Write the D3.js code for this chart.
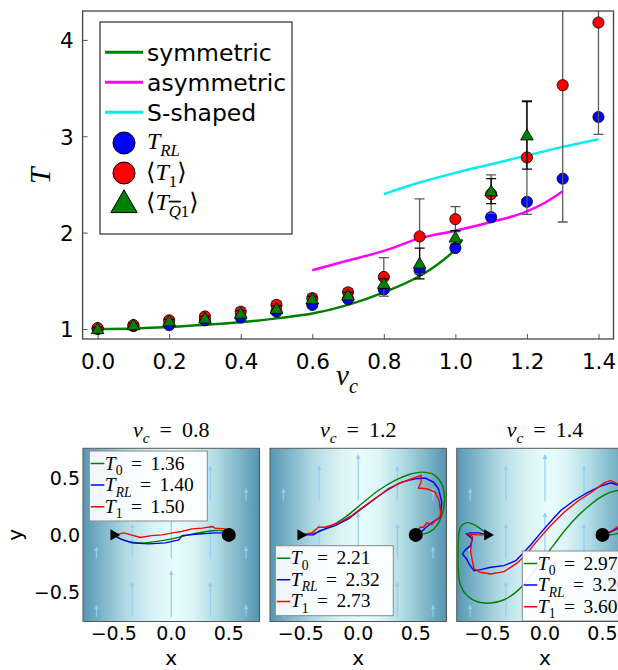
<!DOCTYPE html>
<html><head><meta charset="utf-8">
<script src="https://cdn.jsdelivr.net/npm/d3@7"></script>
<style>body{margin:0;background:#fff} svg{display:block}</style>
</head><body>
<svg id="c" width="618" height="670"></svg>
<script>
// ---------------- DATA ----------------
const vc      = [0.0,0.1,0.2,0.3,0.4,0.5,0.6,0.7,0.8,0.9,1.0,1.1,1.2,1.3,1.4];
const tRL     = [1.00,1.03,1.04,1.09,1.12,1.18,1.25,1.31,1.41,1.61,1.84,2.16,2.32,2.56,3.20];
const t1Mean  = [1.01,1.04,1.09,1.13,1.18,1.25,1.32,1.38,1.54,1.96,2.14,2.40,2.78,3.53,4.18];
const t1Err   = [0.02,0.02,0.03,0.03,0.04,0.04,0.04,0.04,0.20,0.39,0.13,0.20,0.59,1.42,1.16];
const tQ1Mean = [1.00,1.04,1.08,1.11,1.16,1.21,1.31,1.35,1.47,1.68,1.95,2.43,3.01,null,null];
const tQ1Err  = [0.02,0.02,0.02,0.02,0.03,0.03,0.03,0.03,0.05,0.16,0.07,0.13,0.35,null,null];

const symV  = [0.0,0.1,0.2,0.3,0.4,0.5,0.6,0.7,0.8,0.9,0.95,1.0,1.02];
const symT  = [1.00,1.005,1.02,1.045,1.07,1.11,1.16,1.25,1.38,1.55,1.67,1.83,1.93];
const asymV = [0.6,0.7,0.8,0.9,1.0,1.1,1.2,1.25,1.3];
const asymT = [1.61,1.71,1.81,1.94,2.02,2.11,2.22,2.31,2.43];
const sV    = [0.8,0.9,1.0,1.1,1.2,1.3,1.4];
const sT    = [2.40,2.52,2.62,2.71,2.80,2.89,2.97];

const xTicks = [0.0,0.2,0.4,0.6,0.8,1.0,1.2,1.4];
const yTicks = [1,2,3,4];

// bottom panels
const panelVc   = ["0.8","1.2","1.4"];
const panelT0   = ["1.36","2.21","2.97"];
const panelTRL  = ["1.40","2.32","3.20"];
const panelT1   = ["1.50","2.73","3.60"];
const panelTicks = [-0.5,0.0,0.5];
const quiverX   = [-0.65,-0.34,0.0,0.34,0.65];
const quiverLen = [0.10,0.30,0.40,0.30,0.10];
const quiverY   = [-0.72,-0.21,0.30];
const startPt = [-0.5,0], endPt = [0.5,0];

const trajT0 = [
 [[-0.5,0],[-0.428,-0.041],[-0.341,-0.065],[-0.254,-0.070],[-0.138,-0.059],[0.007,-0.035],[0.152,0],[0.268,0.023],[0.384,0.038],[0.457,0.035],[0.5,0]],
 [[-0.5,0],[-0.375,0.018],[-0.259,0.067],[-0.114,0.155],[0.030,0.273],[0.175,0.39],[0.320,0.478],[0.436,0.528],[0.552,0.551],[0.639,0.537],[0.697,0.493],[0.741,0.405],[0.749,0.287],[0.726,0.17],[0.683,0.082],[0.625,0.029],[0.567,0.009],[0.5,0]],
 [[-0.5,0],[-0.559,0.053],[-0.631,0.097],[-0.689,0.106],[-0.735,0.067],[-0.752,-0.035],[-0.755,-0.182],[-0.752,-0.328],[-0.733,-0.446],[-0.675,-0.534],[-0.588,-0.587],[-0.472,-0.598],[-0.356,-0.569],[-0.254,-0.504],[-0.167,-0.416],[-0.081,-0.299],[0.006,-0.182],[0.093,-0.065],[0.18,0.047],[0.267,0.147],[0.369,0.243],[0.485,0.331],[0.572,0.375],[0.644,0.39],[0.71,0.36],[0.745,0.25],[0.735,0.12],[0.68,0.04],[0.6,0.005],[0.5,0]]
];
const trajRL = [
 [[-0.5,0],[-0.442,-0.035],[-0.341,-0.070],[-0.196,-0.079],[-0.051,-0.070],[0.065,-0.044],[0.094,-0.006],[0.21,0.006],[0.384,0.018],[0.486,0.018],[0.5,0]],
 [[-0.5,0],[-0.39,0],[-0.332,0.038],[-0.201,0.082],[-0.086,0.141],[0.03,0.229],[0.146,0.317],[0.262,0.405],[0.378,0.463],[0.494,0.493],[0.581,0.499],[0.654,0.463],[0.697,0.405],[0.726,0.287],[0.712,0.155],[0.639,0.106],[0.581,0.059],[0.538,0.018],[0.5,0]],
 [[-0.5,0],[-0.573,0.018],[-0.646,0.018],[-0.681,0.009],[-0.631,-0.035],[-0.646,-0.094],[-0.689,-0.129],[-0.718,-0.167],[-0.681,-0.211],[-0.66,-0.255],[-0.617,-0.314],[-0.559,-0.305],[-0.472,-0.284],[-0.356,-0.27],[-0.254,-0.226],[-0.197,-0.167],[-0.124,-0.088],[-0.037,0.018],[0.05,0.117],[0.137,0.214],[0.253,0.302],[0.369,0.37],[0.485,0.428],[0.572,0.457],[0.629,0.44],[0.69,0.40],[0.72,0.30],[0.70,0.15],[0.64,0.06],[0.56,0.02],[0.5,0]]
];
const trajT1 = [
 [[-0.5,0],[-0.41,0.018],[-0.27,-0.023],[-0.17,-0.006],[-0.08,0],[0.01,0.018],[0.09,0.03],[0.18,0.053],[0.27,0.059],[0.36,0.073],[0.38,0.059],[0.47,0.053],[0.5,0.018],[0.5,0]],
 [[-0.5,0],[-0.404,0.018],[-0.346,0.067],[-0.288,0.067],[-0.172,0.106],[-0.057,0.17],[0.059,0.258],[0.204,0.361],[0.349,0.449],[0.465,0.493],[0.546,0.522],[0.546,0.463],[0.523,0.411],[0.596,0.405],[0.668,0.375],[0.703,0.302],[0.72,0.155],[0.668,0.126],[0.639,0.091],[0.596,0.106],[0.567,0.067],[0.538,0.067],[0.517,0.023],[0.5,0]],
 [[-0.5,0],[-0.588,0],[-0.675,0.009],[-0.631,-0.012],[-0.64,-0.079],[-0.646,-0.152],[-0.631,-0.226],[-0.617,-0.299],[-0.559,-0.328],[-0.472,-0.343],[-0.356,-0.323],[-0.24,-0.246],[-0.153,-0.158],[-0.066,-0.05],[0.05,0.082],[0.166,0.199],[0.282,0.293],[0.398,0.37],[0.514,0.457],[0.572,0.478],[0.629,0.449],[0.69,0.38],[0.73,0.28],[0.71,0.17],[0.65,0.08],[0.57,0.03],[0.5,0]]
];

// ---------------- DRAW ----------------
const svg = d3.select('#c');
const SANS = 'DejaVu Sans, sans-serif';
const SERIF = 'Liberation Serif, DejaVu Serif, serif';
const defs = svg.append('defs');

const X = d3.scaleLinear().domain([-0.042,1.442]).range([82.6,613.5]);
const Y = d3.scaleLinear().domain([0.896,4.30]).range([339,11]);

defs.append('clipPath').attr('id','clipTop').append('rect')
  .attr('x',X.range()[0]).attr('y',Y.range()[1])
  .attr('width',X.range()[1]-X.range()[0]).attr('height',Y.range()[0]-Y.range()[1]);

const topG = svg.append('g');
const xAx = d3.axisBottom(X).tickValues(xTicks).tickFormat(d3.format('.1f')).tickSizeInner(-5).tickSizeOuter(0).tickPadding(10);
const gx = topG.append('g').attr('transform',`translate(0,${Y.range()[0]})`).call(xAx);
gx.select('.domain').remove();
gx.selectAll('line').attr('stroke','#555');
gx.selectAll('text').attr('font-family',SANS).attr('font-size',21.5).attr('fill','#000').attr('dy','0.95em');
const yAx = d3.axisLeft(Y).tickValues(yTicks).tickFormat(d3.format('d')).tickSizeInner(-5).tickSizeOuter(0).tickPadding(9);
const gy = topG.append('g').attr('transform',`translate(${X.range()[0]},0)`).call(yAx);
gy.select('.domain').remove();
gy.selectAll('line').attr('stroke','#555');
gy.selectAll('text').attr('font-family',SANS).attr('font-size',21.5).attr('fill','#000').attr('dy','0.36em');

const plot = topG.append('g').attr('clip-path','url(#clipTop)');
const line = d3.line().x(d=>X(d[0])).y(d=>Y(d[1])).curve(d3.curveMonotoneX);
plot.append('path').datum(d3.zip(symV,symT)).attr('d',line).attr('fill','none').attr('stroke','#008000').attr('stroke-width',2.5);
plot.append('path').datum(d3.zip(asymV,asymT)).attr('d',line).attr('fill','none').attr('stroke','#ff00ff').attr('stroke-width',2.5);
plot.append('path').datum(d3.zip(sV,sT)).attr('d',line).attr('fill','none').attr('stroke','#00eeee').attr('stroke-width',2.5);

plot.selectAll('.b').data(d3.zip(vc,tRL)).join('circle')
  .attr('cx',d=>X(d[0])).attr('cy',d=>Y(d[1])).attr('r',5.6)
  .attr('fill','#0000ff').attr('stroke','#000').attr('stroke-width',0.8);

function errbars(vals, errs, color){
  const data = vc.map((v,i)=>[v,vals[i],errs[i]]).filter(d=>d[1]!=null);
  const g = plot.append('g').attr('stroke',color).attr('stroke-width',1.3);
  g.selectAll('.v').data(data).join('line')
    .attr('x1',d=>X(d[0])).attr('x2',d=>X(d[0]))
    .attr('y1',d=>Y(d[1]-d[2])).attr('y2',d=>Y(d[1]+d[2]));
  g.selectAll('.c1').data(data).join('line')
    .attr('x1',d=>X(d[0])-5).attr('x2',d=>X(d[0])+5)
    .attr('y1',d=>Y(d[1]-d[2])).attr('y2',d=>Y(d[1]-d[2]));
  g.selectAll('.c2').data(data).join('line')
    .attr('x1',d=>X(d[0])-5).attr('x2',d=>X(d[0])+5)
    .attr('y1',d=>Y(d[1]+d[2])).attr('y2',d=>Y(d[1]+d[2]));
}
errbars(t1Mean,t1Err,'#5a5a5a');
plot.selectAll('.r').data(d3.zip(vc,t1Mean)).join('circle')
  .attr('cx',d=>X(d[0])).attr('cy',d=>Y(d[1])).attr('r',5.6)
  .attr('fill','#ff0000').attr('stroke','#000').attr('stroke-width',0.8);
errbars(tQ1Mean,tQ1Err,'#000');
const tri = d3.symbol().type(d3.symbolTriangle).size(70);
plot.selectAll('.g').data(d3.zip(vc,tQ1Mean).filter(d=>d[1]!=null)).join('path')
  .attr('d',tri).attr('transform',d=>`translate(${X(d[0])},${Y(d[1])+1})`)
  .attr('fill','#008000').attr('stroke','#000').attr('stroke-width',0.8);

topG.append('rect').attr('x',X.range()[0]).attr('y',Y.range()[1])
  .attr('width',X.range()[1]-X.range()[0]).attr('height',Y.range()[0]-Y.range()[1])
  .attr('fill','none').attr('stroke','#444').attr('stroke-width',1.3);

function mathText(g, x, y, parts, size, anchor){
  const t = g.append('text').attr('x',x).attr('y',y).attr('font-family',SERIF).attr('font-size',size).attr('text-anchor',anchor||'start');
  let shift = 0;
  parts.forEach(p=>{
    const ts = t.append('tspan').text(p.t);
    if(p.i) ts.attr('font-style','italic');
    const s = p.sub ? size*0.28 : 0;
    if(s!==shift){ ts.attr('dy', s-shift); shift = s; }
    if(p.sub) ts.attr('font-size', size*0.7);
    if(p.ov) ts.attr('text-decoration','overline');
    if(p.f) ts.attr('font-family',p.f);
    if(p.dx) ts.attr('dx',p.dx);
  });
  return t;
}
mathText(topG, 336, 385, [{t:'v',i:1},{t:'c',i:1,sub:1}], 29, 'start');
mathText(topG.append('g').attr('transform','translate(50,176) rotate(-90)'), 0, 0, [{t:'T',i:1}], 30, 'middle');

const lg = topG.append('g');
lg.append('rect').attr('x',100).attr('y',22).attr('width',192).attr('height',212).attr('fill','#fff').attr('stroke','#000').attr('stroke-width',1);
const lgLines = [['symmetric','#008000'],['asymmetric','#ff00ff'],['S-shaped','#00eeee']];
lgLines.forEach((d,i)=>{
  const y = 52.3 + i*30;
  lg.append('line').attr('x1',105).attr('x2',143).attr('y1',y).attr('y2',y).attr('stroke',d[1]).attr('stroke-width',3);
  lg.append('text').attr('x',147).attr('y',y+9).attr('font-family',SANS).attr('font-size',23.5).text(d[0]);
});
lg.append('circle').attr('cx',124).attr('cy',143).attr('r',11).attr('fill','#0000ff').attr('stroke','#000');
lg.append('circle').attr('cx',124).attr('cy',173).attr('r',11).attr('fill','#ff0000').attr('stroke','#000');
lg.append('path').attr('d',d3.symbol().type(d3.symbolTriangle).size(300)).attr('transform','translate(124,205)').attr('fill','#008000').attr('stroke','#000');
mathText(lg,147,149,[{t:'T',i:1},{t:'RL',i:1,sub:1}],24);
mathText(lg,146,180,[{t:'⟨',f:'DejaVu Serif'},{t:'T',i:1},{t:'1',sub:1},{t:'⟩',f:'DejaVu Serif'}],24);
mathText(lg,146,210,[{t:'⟨',f:'DejaVu Serif'},{t:'T',i:1},{t:'Q',i:1,sub:1,ov:1},{t:'1',sub:1},{t:'⟩',f:'DejaVu Serif'}],24);

// ---------------- bottom panels ----------------
const grad = defs.append('linearGradient').attr('id','bg').attr('x1','0').attr('x2','1').attr('y1','0').attr('y2','0');
[[0,'#5596b2'],[0.1,'#7bb3c8'],[0.25,'#b3dbe5'],[0.4,'#daf3f6'],[0.52,'#e8fcfd'],[0.62,'#dcf5f8'],[0.76,'#addae3'],[0.9,'#7ab2c7'],[1,'#5493b0']]
  .forEach(s=>grad.append('stop').attr('offset',s[0]).attr('stop-color',s[1]));
defs.append('marker').attr('id','ah').attr('viewBox','0 0 10 10').attr('refX',8).attr('refY',5)
  .attr('markerWidth',4).attr('markerHeight',4).attr('orient','auto')
  .append('path').attr('d','M0,0L10,5L0,10z').attr('fill','#92cdf3');

const PW = 176.5, PT = 448.3, PB = 621.5;
const panelLeft = [83,270,456.7];
const legTop = [451,545.7,551];
const legLeft = [89.3,275.3,522.3];

panelLeft.forEach((pl,k)=>{
  const px = d3.scaleLinear().domain([-0.767,0.767]).range([pl,pl+PW]);
  const py = d3.scaleLinear().domain([-0.76,0.76]).range([PB,PT]);
  const g = svg.append('g');
  const cid = 'cp'+k;
  defs.append('clipPath').attr('id',cid).append('rect').attr('x',pl).attr('y',PT).attr('width',PW).attr('height',PB-PT);
  const inner = g.append('g').attr('clip-path',`url(#${cid})`);
  inner.append('rect').attr('x',pl).attr('y',PT).attr('width',PW).attr('height',PB-PT).attr('fill','url(#bg)');
  quiverY.forEach(qy=>{
    quiverX.forEach((qx,j)=>{
      inner.append('line').attr('x1',px(qx)).attr('x2',px(qx))
        .attr('y1',py(qy)).attr('y2',py(qy+quiverLen[j]))
        .attr('stroke','#92cdf3').attr('stroke-width',1.2).attr('marker-end','url(#ah)');
    });
  });
  const tl = d3.line().x(d=>px(d[0])).y(d=>py(d[1]));
  const tlS = d3.line().x(d=>px(d[0])).y(d=>py(d[1])).curve(d3.curveCatmullRom.alpha(0.5));
  inner.append('path').datum(trajT0[k]).attr('d',tlS).attr('fill','none').attr('stroke','#008000').attr('stroke-width',1.4);
  inner.append('path').datum(trajRL[k]).attr('d',tl).attr('fill','none').attr('stroke','#0000ff').attr('stroke-width',1.4);
  inner.append('path').datum(trajT1[k]).attr('d',tl).attr('fill','none').attr('stroke','#ff0000').attr('stroke-width',1.4);
  inner.append('circle').attr('cx',px(endPt[0])).attr('cy',py(endPt[1])).attr('r',7).attr('fill','#000');
  inner.append('path').attr('d',d3.symbol().type(d3.symbolTriangle).size(55))
    .attr('transform',`translate(${px(startPt[0])},${py(startPt[1])}) rotate(90)`).attr('fill','#000');
  const lx = legLeft[k], ly = legTop[k];
  inner.append('rect').attr('x',lx).attr('y',ly).attr('width',118).attr('height',70)
    .attr('fill','#fff').attr('fill-opacity',0.9).attr('stroke','#888').attr('stroke-width',1);
  const entries = [[panelT0[k],'0','#008000',false],[panelTRL[k],'RL','#0000ff',true],[panelT1[k],'1','#ff0000',false]];
  entries.forEach((e,i)=>{
    const yy = ly + 12.5 + i*21.6;
    inner.append('line').attr('x1',lx+1.5).attr('x2',lx+15).attr('y1',yy).attr('y2',yy).attr('stroke',e[2]).attr('stroke-width',1.5);
    mathText(inner, lx+15.5, yy+6, [{t:'T',i:1},{t:e[1],i:e[3],sub:1},{t:'=',dx:8.5},{t:e[0],dx:8.5}], 19.5);
  });
  g.append('rect').attr('x',pl).attr('y',PT).attr('width',PW).attr('height',PB-PT).attr('fill','none').attr('stroke','#555').attr('stroke-width',1);
  panelTicks.forEach(t=>{
    g.append('text').attr('x',px(t)).attr('y',640).attr('text-anchor','middle').attr('font-family',SANS).attr('font-size',19)
      .text(d3.format('.1f')(t).replace('-','−'));
  });
  g.append('text').attr('x',px(0)).attr('y',665).attr('text-anchor','middle').attr('font-family',SANS).attr('font-size',20).text('x');
  mathText(g, px(0), 437, [{t:'v',i:1},{t:'c',i:1,sub:1},{t:'=',dx:10},{t:panelVc[k],dx:10}], 22, 'middle');
  if(k===0){
    panelTicks.forEach(t=>{
      g.append('text').attr('x',80).attr('y',py(t)).attr('dy','0.36em').attr('text-anchor','end').attr('font-family',SANS).attr('font-size',19)
        .text(d3.format('.1f')(t).replace('-','−'));
    });
    g.append('text').attr('transform',`translate(22,${py(0)}) rotate(-90)`).attr('text-anchor','middle').attr('font-family',SANS).attr('font-size',20).text('y');
  }
});
</script>
</body></html>
